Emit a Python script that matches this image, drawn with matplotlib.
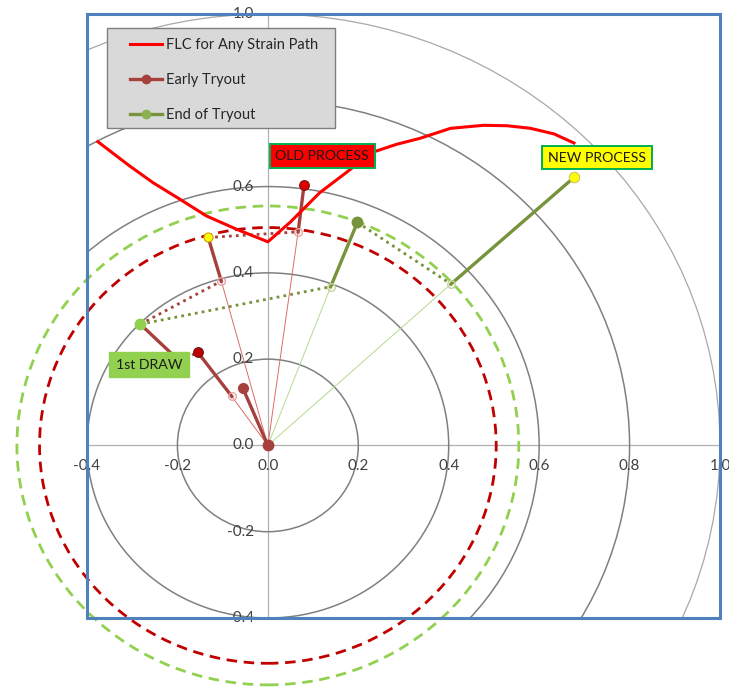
import matplotlib
matplotlib.use('Agg')
import matplotlib.pyplot as plt
import numpy as np
from matplotlib.lines import Line2D
from matplotlib.patches import Rectangle, Ellipse

plt.rcParams['font.family'] = ['Lato', 'DejaVu Sans']

# ---------------- data ----------------
tick_values = [-0.4, -0.2, 0.0, 0.2, 0.4, 0.6, 0.8, 1.0]
tick_labels = ['-0.4', '-0.2', '0.0', '0.2', '0.4', '0.6', '0.8', '1.0']
hidden_y_labels = ['0.8']          # covered by the legend in the original
grid_radii = [0.2, 0.4, 0.6, 0.8, 1.0]
old_limit_radius = 0.505
new_limit_radius = 0.555

flc_x = [-0.376, -0.306, -0.254, -0.195, -0.136, -0.069, 0.0, 0.049, 0.115, 0.174,
         0.230, 0.285, 0.337, 0.404, 0.477, 0.529, 0.581, 0.633, 0.677]
flc_y = [0.704, 0.648, 0.609, 0.571, 0.532, 0.501, 0.472, 0.517, 0.586, 0.633,
         0.679, 0.698, 0.712, 0.735, 0.742, 0.741, 0.735, 0.722, 0.701]

# Early tryout: thick strain-path segments
early_start_x = [0.0, -0.080, -0.282, -0.103, 0.067]
early_start_y = [0.0, 0.114, 0.281, 0.381, 0.495]
early_end_x = [-0.055, -0.155, -0.195, -0.132, 0.080]
early_end_y = [0.132, 0.216, 0.195, 0.482, 0.603]
early_open_x = [-0.080, -0.103, 0.067]
early_open_y = [0.114, 0.381, 0.495]
early_dot_x0 = [-0.282, -0.132, -0.195]
early_dot_y0 = [0.281, 0.482, 0.195]
early_dot_x1 = [-0.103, 0.067, -0.155]
early_dot_y1 = [0.381, 0.495, 0.216]

# End of tryout
end_start_x = [0.139, 0.405]
end_start_y = [0.368, 0.374]
end_end_x = [0.198, 0.678]
end_end_y = [0.517, 0.622]
end_dot_x0 = [-0.282, 0.198]
end_dot_y0 = [0.281, 0.517]
end_dot_x1 = [0.139, 0.405]
end_dot_y1 = [0.368, 0.374]
first_draw_x, first_draw_y = -0.282, 0.281

legend_labels = ['FLC for Any Strain Path', 'Early Tryout', 'End of Tryout']

# ---------------- figure ----------------
W, H = 729, 687
fig = plt.figure(figsize=(W / 100, H / 100), dpi=100)
ax = fig.add_axes([87 / W, (H - 618) / H, 633 / W, 604 / H])
ax.set_xlim(-0.4, 1.0)
ax.set_ylim(-0.4, 1.0)
ax.set_xticks([])
ax.set_yticks([])
for s in ax.spines.values():
    s.set_color('#4F81BD')
    s.set_linewidth(2.2)
    s.set_zorder(6)

# zero axes
ax.axhline(0, color='#B0B0B0', lw=0.9, zorder=1)
ax.axvline(0, color='#B0B0B0', lw=0.9, zorder=1)

# grid circles
for r in grid_radii:
    col = '#A8A8A8' if r >= 1.0 else '#808080'
    lw = 0.9 if r >= 1.0 else 1.1
    ax.add_patch(Ellipse((0, 0), 2 * r, 2 * r, fill=False, edgecolor=col, lw=lw, zorder=1.5))

# limit circles (unclipped)
ax.add_patch(Ellipse((0, 0), 2 * old_limit_radius, 2 * old_limit_radius, fill=False,
                     edgecolor='#C00000', lw=2.0, linestyle=(0, (3.8, 2.4)), zorder=2, clip_on=False))
ax.add_patch(Ellipse((0, 0), 2 * new_limit_radius, 2 * new_limit_radius, fill=False,
                     edgecolor='#92D050', lw=2.0, linestyle=(0, (3.8, 2.4)), zorder=2, clip_on=False))

# FLC
ax.plot(flc_x, flc_y, color='#FF0000', lw=2.2, zorder=4, solid_joinstyle='round')

early_col = '#A6403D'
end_col = '#77933C'

# thin radial lines
for x, y in zip(early_open_x, early_open_y):
    ax.plot([0, x], [0, y], color='#E06A6A', lw=0.7, zorder=2.5)
for x, y in zip(end_start_x, end_start_y):
    ax.plot([0, x], [0, y], color='#B5DA8C', lw=0.7, zorder=2.5)

# dotted transfer lines
for x0, y0, x1, y1 in zip(early_dot_x0, early_dot_y0, early_dot_x1, early_dot_y1):
    ax.plot([x0, x1], [y0, y1], color=early_col, lw=2.0, linestyle=(0, (1, 1.5)), zorder=3)
for x0, y0, x1, y1 in zip(end_dot_x0, end_dot_y0, end_dot_x1, end_dot_y1):
    ax.plot([x0, x1], [y0, y1], color=end_col, lw=2.0, linestyle=(0, (1, 1.5)), zorder=3)

# thick segments
for x0, y0, x1, y1 in zip(early_start_x, early_start_y, early_end_x, early_end_y):
    ax.plot([x0, x1], [y0, y1], color=early_col, lw=2.4, zorder=3.5)
for x0, y0, x1, y1 in zip(end_start_x, end_start_y, end_end_x, end_end_y):
    ax.plot([x0, x1], [y0, y1], color=end_col, lw=2.4, zorder=3.5)

# markers
ax.plot(early_open_x, early_open_y, 'o', ms=5.5, mfc='none', mec='#E6A5A3', mew=1.0, zorder=3.6)
ax.plot(end_start_x, end_start_y, 'o', ms=5.5, mfc='none', mec='#C3D69B', mew=1.0, zorder=3.6)
ax.plot([early_start_x[0]], [early_start_y[0]], 'o', ms=7.5, color=early_col, zorder=3.7)
ax.plot([early_end_x[0]], [early_end_y[0]], 'o', ms=7, color=early_col, zorder=3.7)
ax.plot([early_end_x[1]], [early_end_y[1]], 'o', ms=7, mfc='#C00000', mec='#6E1010', mew=0.8, zorder=3.7)
ax.plot([early_end_x[4]], [early_end_y[4]], 'o', ms=7, mfc='#E00000', mec='#7A1010', mew=0.8, zorder=3.7)
ax.plot([early_end_x[3]], [early_end_y[3]], 'o', ms=6.5, mfc='#FFFF00', mec='#D0A000', mew=0.8, zorder=3.7)
ax.plot([end_end_x[0]], [end_end_y[0]], 'o', ms=7.5, color=end_col, zorder=3.7)
ax.plot([end_end_x[1]], [end_end_y[1]], 'o', ms=7.5, mfc='#FFFF00', mec='#C8C860', mew=0.8, zorder=3.7)
ax.plot([first_draw_x], [first_draw_y], 'o', ms=7.5, color='#92D050', zorder=3.7)

# tick labels
for v, lab in zip(tick_values, tick_labels):
    ax.annotate(lab, (v, 0), xytext=(0, -21), textcoords='offset pixels',
                ha='center', va='center', fontsize=11, color='#404040',
                annotation_clip=False, zorder=3)
for v, lab in zip(tick_values, tick_labels):
    if lab in hidden_y_labels:
        continue
    ax.annotate(lab, (0, v), xytext=(-14, 0), textcoords='offset pixels',
                ha='right', va='center', fontsize=11, color='#404040',
                annotation_clip=False, zorder=3)

# annotation boxes
ax.text(0.120, 0.671, 'OLD PROCESS', ha='center', va='center', fontsize=10.2, color='#1A1A1A',
        zorder=5, bbox=dict(boxstyle='square,pad=0.4', fc='#FF0000', ec='#00B050', lw=1.4))
ax.text(0.728, 0.667, 'NEW PROCESS', ha='center', va='center', fontsize=10.2, color='#1A1A1A',
        zorder=5, bbox=dict(boxstyle='square,pad=0.4', fc='#FFFF00', ec='#00B050', lw=1.4))
ax.text(-0.263, 0.187, '1st DRAW', ha='center', va='center', fontsize=10.2, color='#1A1A1A',
        zorder=5, bbox=dict(boxstyle='square,pad=0.45', fc='#92D050', ec='#92D050', lw=1.0))

# legend
box = Rectangle((107 / W, (H - 128) / H), 228 / W, 100 / H, transform=fig.transFigure,
                facecolor='#D9D9D9', edgecolor='#7F7F7F', lw=1.0, zorder=7)
fig.patches.append(box)
handles = [Line2D([], [], color='#FF0000', lw=2.2),
           Line2D([], [], color=early_col, lw=2.4, marker='o', ms=6),
           Line2D([], [], color='#77933C', lw=2.4, marker='o', ms=6, mfc='#8DB050', mec='#8DB050')]
leg = fig.legend(handles, legend_labels, loc='upper left', bbox_to_anchor=(130 / W, (H - 38) / H),
                 frameon=False, fontsize=10.5, handlelength=2.2, handletextpad=0.25,
                 labelspacing=1.45, borderpad=0.0, borderaxespad=0.0)
leg.set_zorder(8)
for t in leg.get_texts():
    t.set_color('#262626')

fig.savefig('out.png', dpi=100)
